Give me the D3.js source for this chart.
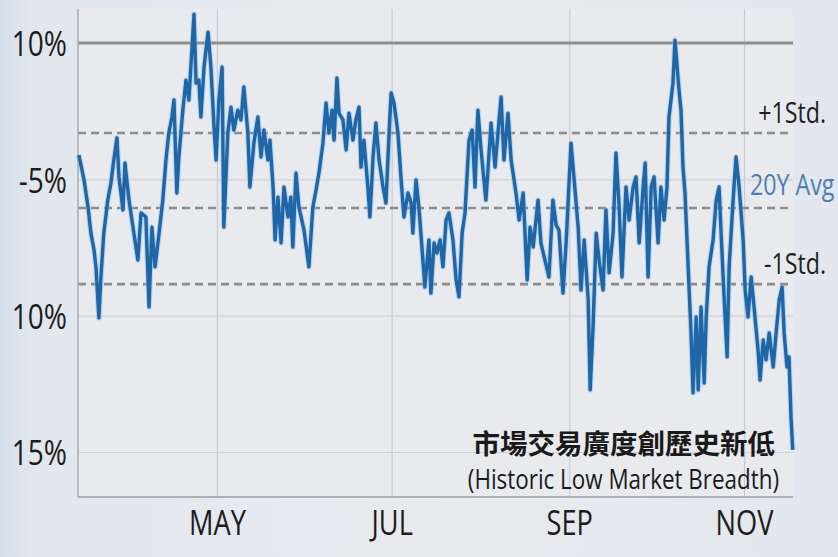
<!DOCTYPE html>
<html>
<head>
<meta charset="utf-8">
<script src="https://cdn.jsdelivr.net/npm/d3@7"></script>
<style>
  body { margin: 0; background: #e6e9ee; }
  svg { display: block; }
  .narrow { font-family: "Open Sans", "Noto Sans", sans-serif; }
</style>
</head>
<body>
<svg id="chart" width="838" height="557"></svg>
<script>
// days counted from 1 March, one entry per reading of the breadth line
const dayOffsets = [12.8,14.6,16.0,17.0,18.1,18.8,19.8,20.5,21.5,22.9,24.0,25.0,26.1,26.8,28.2,28.9,30.3,32.0,33.4,34.5,
  36.2,37.3,38.3,39.4,40.8,42.1,43.2,44.2,45.3,46.0,47.0,47.7,49.1,50.2,51.2,51.9,53.0,53.7,54.7,55.4,
  56.5,57.9,58.9,60.0,60.7,61.7,62.8,63.4,64.8,65.9,66.9,68.3,69.4,70.4,71.8,72.5,73.9,75.3,76.4,77.4,
  78.8,79.5,80.6,81.3,82.3,83.4,84.4,85.8,86.8,87.5,88.6,89.6,91.4,93.1,94.5,95.6,96.6,98.0,99.1,100.1,
  101.2,101.9,102.9,103.6,105.0,106.1,107.1,108.5,109.5,110.6,111.3,112.3,113.7,114.4,115.5,116.5,117.6,119.0,120.0,121.1,
  121.8,122.8,124.2,125.3,126.3,127.7,128.8,129.4,130.5,131.5,132.9,133.6,135.0,135.7,136.8,137.8,138.9,139.9,141.0,142.0,
  143.4,144.5,145.5,146.6,147.6,149.0,150.1,151.1,152.1,153.2,154.9,156.7,158.1,159.1,160.2,161.2,162.6,163.7,165.4,166.5,
  167.9,169.3,170.3,171.4,173.1,174.1,175.5,176.9,178.3,179.4,180.4,181.8,182.9,184.6,185.7,187.1,188.1,189.2,190.6,191.3,
  192.3,193.4,194.4,195.8,196.8,197.9,199.3,200.3,201.4,202.4,203.8,204.9,206.3,207.3,208.4,209.8,210.5,211.5,212.6,213.6,
  215.0,216.0,217.1,218.1,218.8,220.2,220.9,222.3,223.0,223.7,224.4,225.5,226.5,227.2,228.3,229.0,230.0,231.1,231.8,232.8,
  234.2,235.3,236.3,237.0,238.1,239.1,239.8,241.2,242.2,243.3,244.7,245.4,246.4,247.5,248.5,249.9,250.6,251.7,252.7,253.8,
  255.2,256.2,257.3,258.3,259.0,260.0,260.7,261.4,262.0];

const breadth = [-4.11,-5.02,-6.01,-6.97,-7.59,-8.25,-10.08,-8.58,-6.97,-5.76,-5.13,-4.29,-3.48,-4.91,-6.12,-4.40,-5.76,-6.97,-7.96,-6.23,
  -6.38,-9.68,-6.75,-8.21,-6.97,-5.76,-4.29,-3.30,-2.71,-2.09,-5.50,-4.18,-2.46,-1.36,-2.09,-0.88,1.06,-1.47,-1.36,-2.71,
  -0.88,0.40,-0.88,-3.08,-4.29,-2.09,-0.88,-6.75,-3.30,-2.35,-3.19,-2.46,-2.82,-1.61,-3.30,-5.28,-3.67,-2.71,-4.18,-3.19,
  -4.29,-3.56,-5.28,-7.22,-5.65,-7.33,-5.28,-6.38,-5.65,-7.48,-4.77,-6.01,-6.86,-8.21,-6.01,-5.39,-4.77,-3.67,-2.20,-3.30,
  -2.46,-3.56,-1.28,-2.57,-2.82,-3.92,-2.57,-3.56,-2.82,-2.35,-4.55,-3.56,-5.28,-6.38,-4.18,-2.93,-4.29,-5.28,-5.87,-3.30,
  -1.83,-2.20,-3.30,-5.02,-6.38,-5.50,-5.87,-6.97,-5.02,-6.01,-7.96,-8.95,-7.22,-9.17,-7.33,-7.70,-7.22,-8.21,-6.49,-6.23,
  -7.22,-8.69,-9.31,-6.97,-6.23,-3.56,-3.19,-5.28,-2.46,-3.92,-5.76,-2.93,-4.55,-3.30,-1.98,-4.29,-2.57,-4.29,-5.50,-6.49,
  -5.50,-8.69,-6.75,-7.48,-5.76,-7.33,-7.96,-8.58,-5.76,-6.67,-6.86,-9.17,-7.33,-3.67,-5.02,-6.75,-9.06,-7.22,-9.42,-12.72,
  -10.41,-6.97,-7.96,-9.06,-6.12,-8.43,-6.97,-4.03,-6.01,-8.58,-5.28,-6.49,-5.28,-4.91,-7.33,-5.28,-4.40,-8.58,-5.28,-4.91,
  -7.33,-5.28,-6.49,-5.28,-2.71,-1.47,0.11,-1.72,-2.46,-4.55,-5.50,-8.21,-10.63,-12.83,-10.05,-12.72,-9.68,-12.47,-10.05,-8.21,
  -7.22,-5.76,-5.28,-6.97,-9.42,-11.51,-8.21,-5.76,-4.18,-5.28,-7.22,-9.06,-10.05,-8.58,-9.68,-11.26,-12.36,-10.89,-11.62,-10.63,
  -11.88,-10.63,-9.42,-8.95,-10.63,-11.88,-11.51,-13.71,-14.92];

const monthTicks = ["2023-05-01", "2023-07-01", "2023-09-01", "2023-11-01"];
const monthLabels = ["MAY", "JUL", "SEP", "NOV"];

const yTicks = [0, -5, -10, -15];
const yTickLabels = ["10%", "-5%", "10%", "15%"];

const bandNames = ["+1Std.", "20Y Avg", "-1Std."];
const bandValues = [-3.30, -6.05, -8.84];

const titleZh = "市場交易廣度創歷史新低";
const titleEn = "(Historic Low Market Breadth)";

const W = 838, H = 557;
const margin = { top: 9, right: 45, bottom: 60, left: 78 };
const innerW = W - margin.left - margin.right;
const innerH = H - margin.top - margin.bottom;
const squeeze = 0.8;   // the source lettering is narrow

const startDate = new Date(2023, 2, 1);
const dayToDate = d => new Date(startDate.getTime() + d * 864e5);
const parse = d3.timeParse("%Y-%m-%d");

const data = dayOffsets.map((d, i) => ({ date: dayToDate(d), v: breadth[i] }));
if (dayOffsets.length !== breadth.length) console.warn("length mismatch", dayOffsets.length, breadth.length);

const svg = d3.select("#chart");

// background wash
const defs = svg.append("defs");
const bg = defs.append("linearGradient").attr("id", "bg").attr("x1", 0).attr("x2", 1).attr("y1", 0).attr("y2", 0);
bg.append("stop").attr("offset", "0%").attr("stop-color", "#d3dfeb");
bg.append("stop").attr("offset", "4%").attr("stop-color", "#e2e7ee");
bg.append("stop").attr("offset", "50%").attr("stop-color", "#e9eaee");
bg.append("stop").attr("offset", "100%").attr("stop-color", "#e3e7ed");
svg.append("rect").attr("width", W).attr("height", H).attr("fill", "url(#bg)");

const g = svg.append("g").attr("transform", `translate(${margin.left},${margin.top})`);

const x = d3.scaleTime()
  .domain([dayToDate(12.5), dayToDate(262.1)])
  .range([0, innerW]);

const y = d3.scaleLinear()
  .domain([1.25, -16.65])
  .range([0, innerH]);

g.append("rect").attr("width", innerW).attr("height", innerH).attr("fill", "#e9eaee");

// grid
g.append("g")
  .call(d3.axisBottom(x).tickValues(monthTicks.map(parse)).tickSize(innerH).tickFormat(""))
  .call(a => a.select(".domain").remove())
  .call(a => a.selectAll("line").attr("stroke", "#c9cbd0").attr("stroke-width", 1.2));

g.append("g")
  .call(d3.axisLeft(y).tickValues(yTicks.slice(1)).tickSize(-innerW).tickFormat(""))
  .call(a => a.select(".domain").remove())
  .call(a => a.selectAll("line").attr("stroke", "#d0d1d5").attr("stroke-width", 1.2));

// top reference line
g.append("line")
  .attr("x1", 0).attr("x2", innerW)
  .attr("y1", y(yTicks[0])).attr("y2", y(yTicks[0]))
  .attr("stroke", "#8e8e8e").attr("stroke-width", 3);

// std / average bands
g.selectAll(".band").data(bandValues).enter().append("line")
  .attr("class", "band")
  .attr("x1", 0).attr("x2", innerW)
  .attr("y1", d => y(d)).attr("y2", d => y(d))
  .attr("stroke", "#8c8c8c").attr("stroke-width", 2.6)
  .attr("stroke-dasharray", "8,5");

// axis frame
g.append("line").attr("x1", 0).attr("x2", 0).attr("y1", 0).attr("y2", innerH)
  .attr("stroke", "#a9abb0").attr("stroke-width", 1.5);
g.append("line").attr("x1", 0).attr("x2", innerW).attr("y1", innerH).attr("y2", innerH)
  .attr("stroke", "#9a9ca0").attr("stroke-width", 1.5);

// breadth line
const line = d3.line().x(d => x(d.date)).y(d => y(d.v)).curve(d3.curveLinear);
g.append("path").datum(data)
  .attr("fill", "none").attr("stroke", "#8fc0ea").attr("stroke-width", 5.5)
  .attr("stroke-linejoin", "round").attr("opacity", 0.55).attr("d", line);
g.append("path").datum(data)
  .attr("fill", "none").attr("stroke", "#1f66a6").attr("stroke-width", 3.4)
  .attr("stroke-linejoin", "round").attr("d", line);

// y labels
g.append("g")
  .call(d3.axisLeft(y).tickValues(yTicks).tickSize(0).tickPadding(11 / squeeze).tickFormat((d, i) => yTickLabels[i]))
  .call(a => a.select(".domain").remove())
  .call(a => a.selectAll("text")
    .attr("class", "narrow")
    .attr("transform", `scale(${squeeze},1)`)
    .attr("font-size", 35).attr("fill", "#1c1c1c").attr("dy", "0.36em"));

// x labels
g.append("g").attr("transform", `translate(0,${innerH})`)
  .call(d3.axisBottom(x).tickValues(monthTicks.map(parse)).tickSize(0).tickPadding(14).tickFormat((d, i) => monthLabels[i]))
  .call(a => a.select(".domain").remove())
  .call(a => a.selectAll("text")
    .attr("class", "narrow")
    .attr("transform", `scale(${squeeze},1)`)
    .attr("font-size", 34).attr("fill", "#1c1c1c").attr("dy", "0.72em"));

// band labels
g.selectAll(".bandLabel").data(bandNames).enter().append("text")
  .attr("class", "bandLabel narrow")
  .attr("transform", (d, i) => {
    const tx = i === 1 ? innerW - 43 : innerW + 33;
    const ty = y(bandValues[i]) - (i === 1 ? 13 : 10);
    return `translate(${tx},${ty}) scale(${squeeze},1)`;
  })
  .attr("text-anchor", (d, i) => i === 1 ? "start" : "end")
  .attr("font-size", 29)
  .attr("fill", (d, i) => i === 1 ? "#4b80b4" : "#1e1e1e")
  .text(d => d);

// annotation
g.append("text")
  .attr("x", innerW - 18).attr("y", y(-15) + 2)
  .attr("text-anchor", "end")
  .attr("font-family", "'Noto Sans CJK TC', 'Noto Sans CJK SC', sans-serif")
  .attr("font-weight", 700).attr("font-size", 27.5).attr("fill", "#1a1a1a")
  .text(titleZh);
g.append("text")
  .attr("class", "narrow")
  .attr("transform", `translate(${innerW - 14},${y(-15) + 37}) scale(0.83,1)`)
  .attr("text-anchor", "end")
  .attr("font-size", 27).attr("fill", "#1a1a1a")
  .text(titleEn);
</script>
</body>
</html>
